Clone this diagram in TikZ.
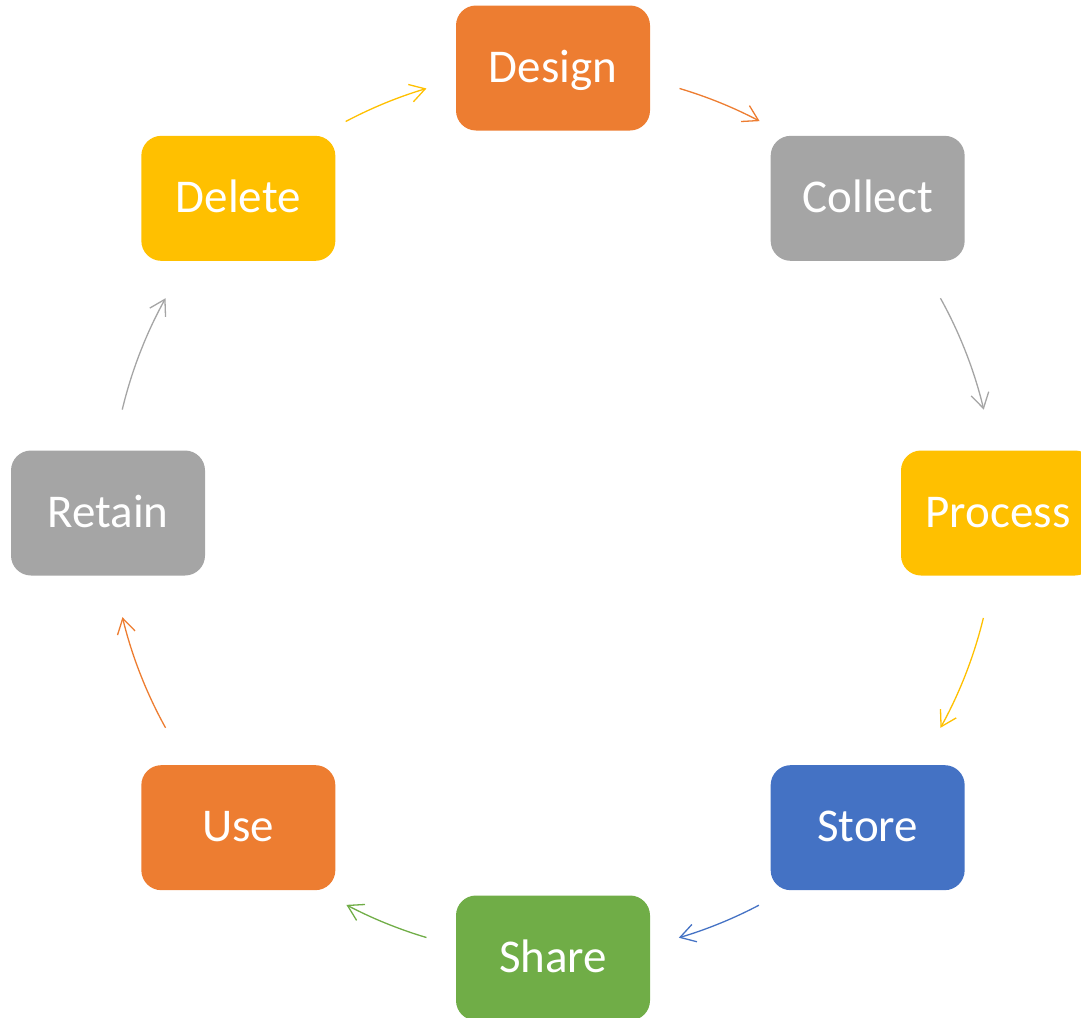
\documentclass[tikz,border=0pt]{standalone}
\usepackage{fontspec}
\setmainfont{Carlito}
\usetikzlibrary{arrows.meta,calc}

\definecolor{cOrange}{HTML}{ED7D31}
\definecolor{cGray}{HTML}{A5A5A5}
\definecolor{cYellow}{HTML}{FFC000}
\definecolor{cBlue}{HTML}{4472C4}
\definecolor{cGreen}{HTML}{70AD47}

\begin{document}
\begin{tikzpicture}[x=1pt,y=1pt,
  stage/.style={rectangle, rounded corners=20pt, minimum width=194pt, minimum height=125pt,
    inner sep=0pt, text height=34pt, text depth=6pt, text=white,
    font=\fontsize{47}{56}\selectfont},
  flow/.style={line width=1.3pt, -{Straight Barb[length=15pt,width=18pt,line width=1.3pt]}}]
  \useasboundingbox (0,0) rectangle (1081,-1017);
  \clip (0,0) rectangle (1081,-1017);

  % centre of the ring of stages
  \coordinate (ring) at (553,-513);

  % the eight lifecycle stages, clockwise from the top
  \node[stage, fill=cOrange] (design)  at ($(ring)+(90:445)$)   {Design};
  \node[stage, fill=cGray]   (collect) at ($(ring)+(45:445)$)   {Collect};
  \node[stage, fill=cYellow] (process) at ($(ring)+(0:445)$)    {Process};
  \node[stage, fill=cBlue]   (store)   at ($(ring)+(-45:445)$)  {Store};
  \node[stage, fill=cGreen]  (share)   at ($(ring)+(-90:445)$)  {Share};
  \node[stage, fill=cOrange] (use)     at ($(ring)+(-135:445)$) {Use};
  \node[stage, fill=cGray]   (retain)  at ($(ring)+(180:445)$)  {Retain};
  \node[stage, fill=cYellow] (delete)  at ($(ring)+(135:445)$)  {Delete};

  % curved arrows between neighbouring stages, following the ring
  \coordinate (a1) at ($(ring)+(73.4:443)$);
  \coordinate (a2) at ($(ring)+(29:443)$);
  \coordinate (a3) at ($(ring)+(-13.7:443)$);
  \coordinate (a4) at ($(ring)+(-62.3:443)$);
  \coordinate (a5) at ($(ring)+(-106.6:443)$);
  \coordinate (a6) at ($(ring)+(-151:443)$);
  \coordinate (a7) at ($(ring)+(166.5:443)$);
  \coordinate (a8) at ($(ring)+(117.9:443)$);

  \draw[flow, cOrange] (a1) arc[start angle=73.4,   end angle=62.2,   radius=443];
  \draw[flow, cGray]   (a2) arc[start angle=29,     end angle=13.5,   radius=443];
  \draw[flow, cYellow] (a3) arc[start angle=-13.7,  end angle=-29,    radius=443];
  \draw[flow, cBlue]   (a4) arc[start angle=-62.3,  end angle=-73.5,  radius=443];
  \draw[flow, cGreen]  (a5) arc[start angle=-106.6, end angle=-117.8, radius=443];
  \draw[flow, cOrange] (a6) arc[start angle=-151,   end angle=-166.4, radius=443];
  \draw[flow, cGray]   (a7) arc[start angle=166.5,  end angle=151,    radius=443];
  \draw[flow, cYellow] (a8) arc[start angle=117.9,  end angle=106.6,  radius=443];
\end{tikzpicture}
\end{document}
